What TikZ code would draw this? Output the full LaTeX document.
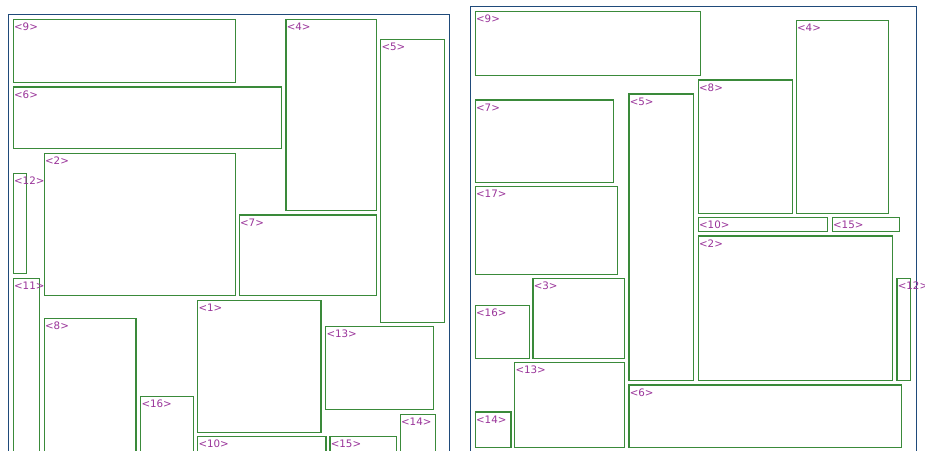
\documentclass[tikz,border=0pt]{standalone}
\usepackage{fontspec}
\setmainfont{DejaVu Sans}
\definecolor{framec}{HTML}{1F4A7A}
\definecolor{boxc}{HTML}{3A8A3A}
\definecolor{lblc}{HTML}{993399}
\tikzset{
  frm/.style={draw=framec,line width=1pt,anchor=north west,inner sep=0pt,outer sep=0pt},
  bx/.style={draw=boxc,line width=1.2pt,anchor=north west,inner sep=0pt,outer sep=0pt},
  lbl/.style={text=lblc,anchor=north west,inner sep=0pt,font=\fontsize{10.3pt}{11pt}\selectfont}
}
% \bxx{name}{x}{y}{w}{h}{label}
\newcommand\bxx[6]{%
  \node[bx,minimum width=#4pt,minimum height=#5pt] (#1) at (#2,#3) {};
  \node[lbl] (#1t) at ([xshift=0.6pt,yshift=-3.4pt]#1.north west) {<#6>};
}
\begin{document}
\begin{tikzpicture}[x=1pt,y=-1pt]
\useasboundingbox (0,0) rectangle (925,450);
\clip (0,0) rectangle (925,450);
\fill[white] (0,0) rectangle (925,450);
% left panel
\node[frm,minimum width=441pt,minimum height=460pt] (LF) at (8.5,14.3) {};
\bxx{L9}{13.3}{19.3}{222.4}{63.4}{9}
\bxx{L4}{286}{19.3}{90.7}{191}{4}
\bxx{L5}{380.7}{39.3}{64}{283}{5}
\bxx{L6}{13.3}{87}{268.4}{61.3}{6}
\bxx{L2}{44.3}{153.3}{191.4}{142}{2}
\bxx{L12}{13.3}{173.3}{13.4}{100.4}{12}
\bxx{L7}{239.3}{215}{137.4}{80.3}{7}
\bxx{L11}{13.3}{278.3}{26}{180}{11}
\bxx{L8}{44.3}{318.3}{91.7}{140}{8}
\bxx{L16}{140.7}{396.7}{52.6}{60}{16}
\bxx{L1}{197.7}{300.3}{123.3}{132}{1}
\bxx{L10}{197.7}{436.3}{128.3}{20}{10}
\bxx{L13}{325.7}{326.3}{108}{83}{13}
\bxx{L14}{400.3}{414.7}{35}{40}{14}
\bxx{L15}{330}{436.3}{66.7}{20}{15}
% right panel
\node[frm,minimum width=446pt,minimum height=470pt] (RF) at (470.7,6) {};
\bxx{R9}{475.3}{11.7}{225.4}{64}{9}
\bxx{R4}{796.3}{20.7}{92}{192.6}{4}
\bxx{R8}{698.3}{80}{94}{133.3}{8}
\bxx{R5}{629}{94}{64.3}{286.7}{5}
\bxx{R7}{475.3}{100}{138.4}{82.3}{7}
\bxx{R17}{475.3}{186.7}{142.4}{87.6}{17}
\bxx{R10}{698.3}{217.7}{129.4}{14}{10}
\bxx{R15}{832.3}{217.7}{67}{14}{15}
\bxx{R2}{698.3}{236}{194}{144.7}{2}
\bxx{R12}{897}{278.3}{13.7}{102.4}{12}
\bxx{R3}{533}{278.3}{91.7}{80.4}{3}
\bxx{R16}{475.3}{305.3}{54}{53.4}{16}
\bxx{R13}{514.7}{362.7}{110}{84.6}{13}
\bxx{R14}{475.3}{412}{35.7}{35.3}{14}
\bxx{R6}{629}{385}{272.3}{62.3}{6}
\end{tikzpicture}
\end{document}
